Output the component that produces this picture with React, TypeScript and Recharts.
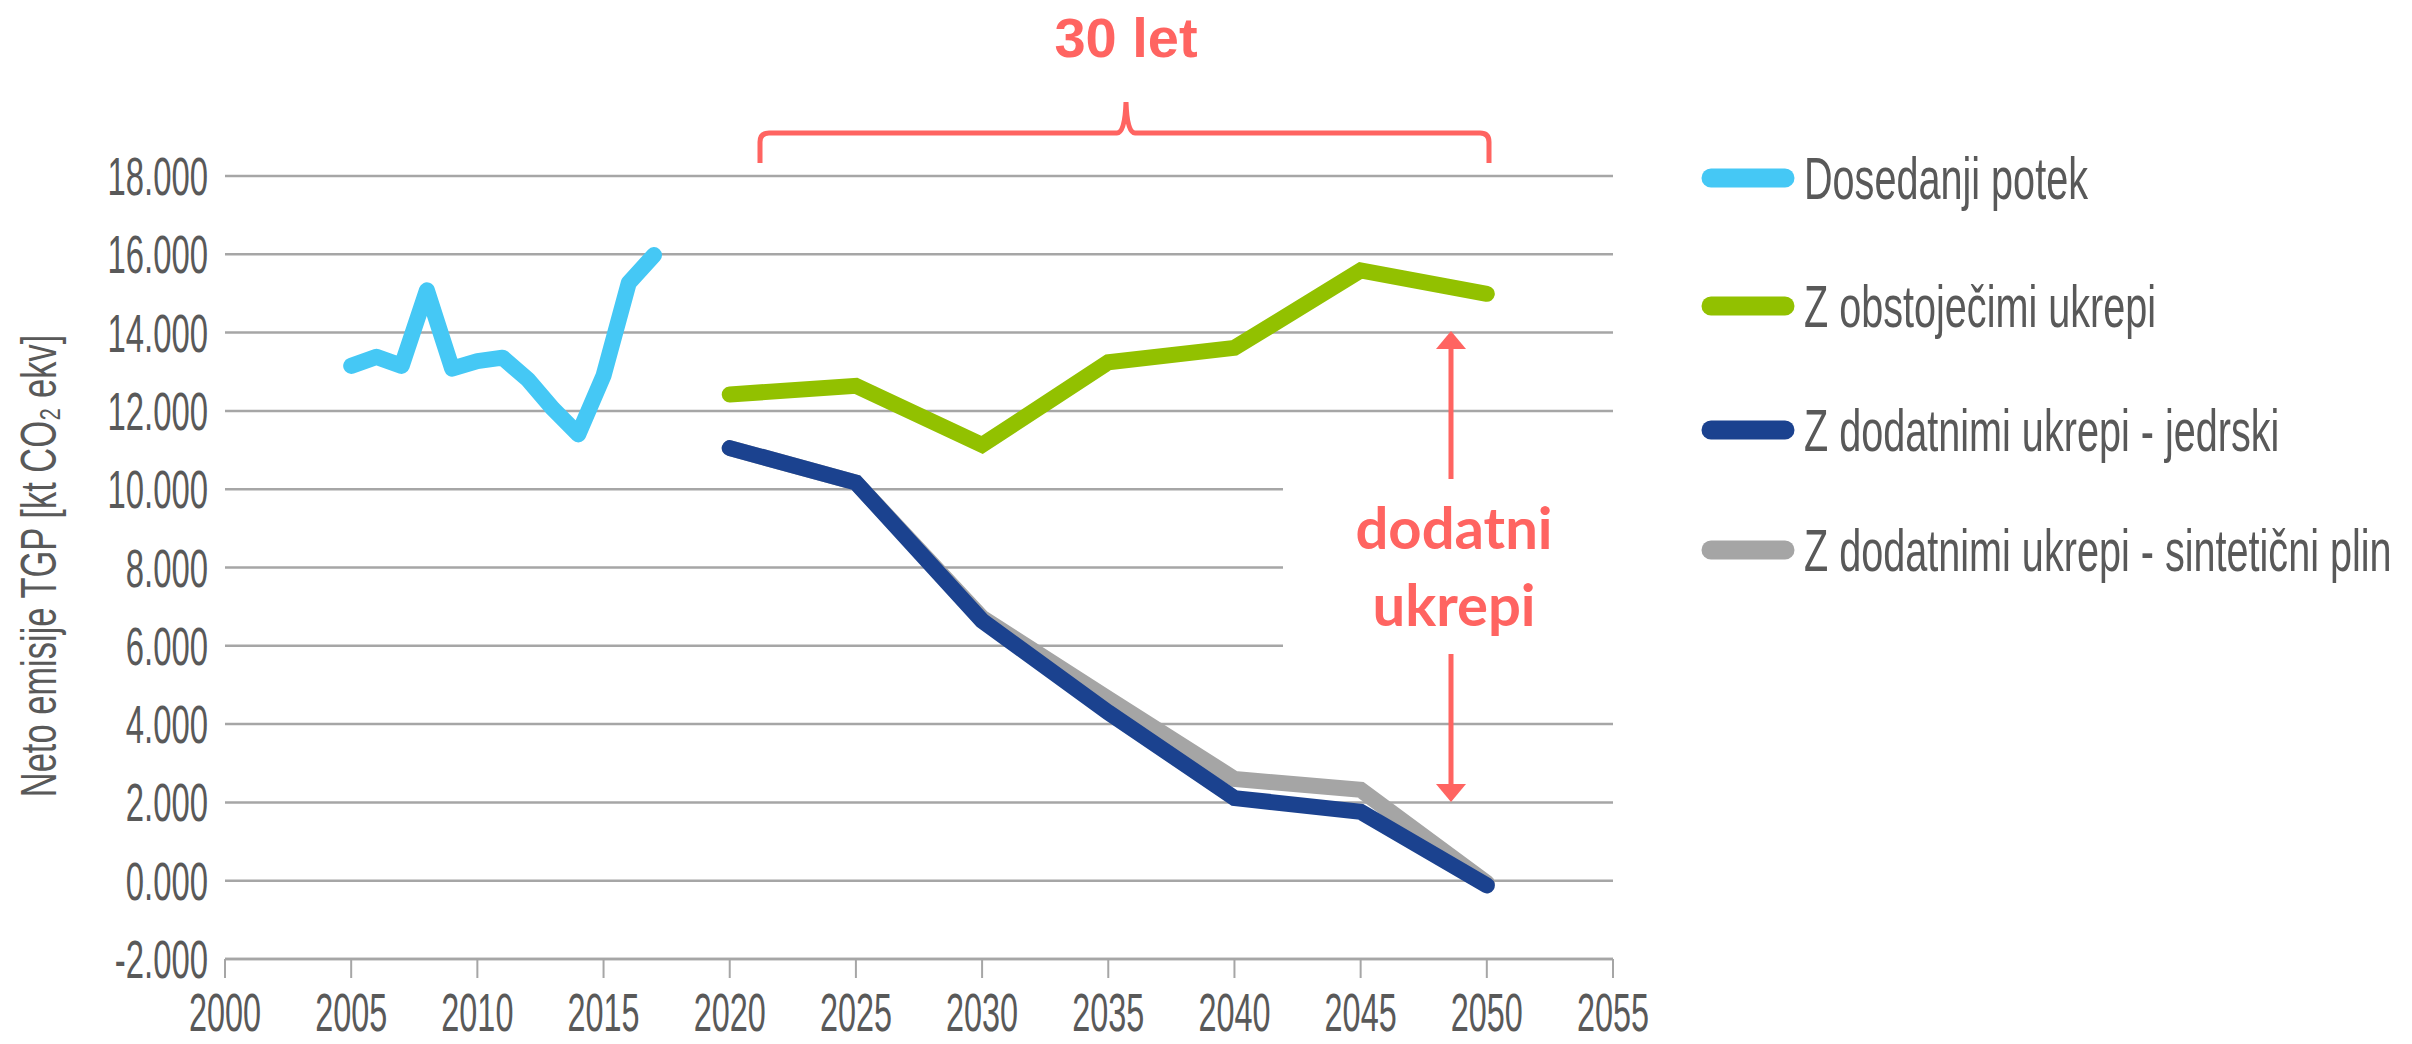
import React from 'react';
import { LineChart, Line, XAxis, YAxis, CartesianGrid, Legend } from 'recharts';

// historical net emissions, kt CO2 eq
const histYears = [2005, 2006, 2007, 2008, 2009, 2010, 2011, 2012, 2013, 2014, 2015, 2016, 2017];
const histValues = [13150, 13380, 13150, 15080, 13080, 13270, 13360, 12800, 12050, 11400, 12900, 15270, 15980];

// scenarios
const scenarioYears = [2020, 2025, 2030, 2035, 2040, 2045, 2050];
const existingMeasures = [12420, 12640, 11130, 13240, 13610, 15590, 14990];
const additionalNuclear = [11050, 10170, 6640, 4300, 2110, 1760, -120];
const additionalSynGas = [11050, 10170, 6720, 4650, 2600, 2320, -60];

const xTicks = [2000, 2005, 2010, 2015, 2020, 2025, 2030, 2035, 2040, 2045, 2050, 2055];
const yTicks = [-2000, 0, 2000, 4000, 6000, 8000, 10000, 12000, 14000, 16000, 18000];
const yTickLabels = ['-2.000', '0.000', '2.000', '4.000', '6.000', '8.000', '10.000', '12.000', '14.000', '16.000', '18.000'];

const seriesNames = [
  'Dosedanji potek',
  'Z obstoječimi ukrepi',
  'Z dodatnimi ukrepi - jedrski',
  'Z dodatnimi ukrepi - sintetični plin',
];
const seriesColors = ['#45C8F5', '#92C100', '#1B428F', '#A5A5A5'];

const yTitle = 'Neto emisije TGP [kt CO₂ ekv]';
const spanLabel = '30 let';
const gapLabel = ['dodatni', 'ukrepi'];

const toPoints = (years: number[], values: number[]) => years.map((year, i) => ({ year, value: values[i] }));

const histData = toPoints(histYears, histValues);
const wemData = toPoints(scenarioYears, existingMeasures);
const nuclearData = toPoints(scenarioYears, additionalNuclear);
const synGasData = toPoints(scenarioYears, additionalSynGas);

const W = 2412;
const H = 1044;
const GREY_TEXT = '#595959';
const GRID = '#A6A6A6';
const RED = '#FF6461';
const NARROW = '"Liberation Sans", Arial, sans-serif';
const LINE_W = 16;

// squeezed text, the original uses a very condensed face
const Narrow = ({ x, y, sx, size, anchor = 'start', rotate = false, fill = GREY_TEXT, children }: any) => (
  <text
    transform={`translate(${x},${y})${rotate ? ' rotate(-90)' : ''} scale(${sx},1)`}
    fontSize={size}
    fontFamily={NARROW}
    textAnchor={anchor}
    fill={fill}
  >
    {children}
  </text>
);

const YTick = (props: any) => {
  const { x, y, payload } = props;
  const idx = yTicks.indexOf(payload.value);
  return (
    <Narrow x={x} y={y + 19} sx={0.62} size={53} anchor="end">
      {yTickLabels[idx]}
    </Narrow>
  );
};

const XTick = (props: any) => {
  const { x, y, payload } = props;
  return (
    <Narrow x={x} y={y + 53} sx={0.6} size={54} anchor="middle">
      {String(payload.value)}
    </Narrow>
  );
};

const legendRows = [38, 166, 290, 410];

const LegendBox = () => (
  <svg width={722} height={460}>
    {seriesNames.map((name, i) => {
      const cy = legendRows[i];
      return (
        <g key={name}>
          <line x1={21} y1={cy} x2={95} y2={cy} stroke={seriesColors[i]} strokeWidth={19} strokeLinecap="round" />
          <Narrow x={114} y={cy + 21} sx={0.66} size={60}>
            {name}
          </Narrow>
        </g>
      );
    })}
  </svg>
);

const Annotations = () => (
  <svg width={W} height={H} style={{ position: 'absolute', left: 0, top: 0, pointerEvents: 'none' }}>
    {/* y axis title */}
    <Narrow x={56} y={566} sx={0.69} size={50} anchor="middle" rotate>
      {yTitle}
    </Narrow>

    {/* 30 year bracket */}
    <text x={1126} y={57} fontSize={56} fontWeight={700} fontFamily={NARROW} fill={RED} textAnchor="middle">
      {spanLabel}
    </text>
    <path
      d="M760,163 L760,142 Q760,133 769,133 L1117,133 Q1125,133 1126,102 Q1127,133 1135,133 L1480,133 Q1489,133 1489,142 L1489,163"
      fill="none"
      stroke={RED}
      strokeWidth={5}
    />

    {/* box that hides the grid behind the label */}
    <rect x={1283} y={470} width={340} height={228} fill="#fff" />

    {/* double arrow */}
    <line x1={1451} y1={347} x2={1451} y2={479} stroke={RED} strokeWidth={5} />
    <polygon points="1451,331 1436,349 1466,349" fill={RED} />
    <line x1={1451} y1={654} x2={1451} y2={786} stroke={RED} strokeWidth={5} />
    <polygon points="1451,802 1436,784 1466,784" fill={RED} />
    <text x={1454} y={549} fontSize={58} fontWeight={700} fontFamily="Lato, sans-serif" fill={RED} textAnchor="middle">
      {gapLabel[0]}
    </text>
    <text x={1454} y={626} fontSize={58} fontWeight={700} fontFamily="Lato, sans-serif" fill={RED} textAnchor="middle">
      {gapLabel[1]}
    </text>
  </svg>
);

const App: React.FC = () => {
  return (
    <div style={{ position: 'relative', width: W, height: H, background: '#fff' }}>
      <style>{'body{margin:0;background:#fff}'}</style>
      <LineChart width={W} height={H} margin={{ top: 176, right: 799, bottom: 0, left: 0 }}>
        <CartesianGrid vertical={false} stroke={GRID} strokeWidth={2.5} />
        <XAxis
          dataKey="year"
          type="number"
          domain={[2000, 2055]}
          ticks={xTicks}
          interval={0}
          height={85}
          allowDuplicatedCategory={false}
          axisLine={{ stroke: GRID, strokeWidth: 2.5 }}
          tickLine={{ stroke: GRID, strokeWidth: 2 }}
          tickSize={19}
          tickMargin={0}
          tick={<XTick />}
        />
        <YAxis
          type="number"
          domain={[-2000, 18000]}
          ticks={yTicks}
          interval={0}
          width={225}
          axisLine={false}
          tickLine={false}
          tickSize={0}
          tickMargin={17}
          tick={<YTick />}
        />
        <Legend layout="vertical" align="center" verticalAlign="middle" content={<LegendBox />}
          wrapperStyle={{ position: 'absolute', left: 1690, top: 140, width: 722, height: 460 }} />
        <Line data={histData} dataKey="value" name={seriesNames[0]} stroke={seriesColors[0]} strokeWidth={LINE_W}
          strokeLinecap="round" strokeLinejoin="round" dot={false} isAnimationActive={false} />
        <Line data={wemData} dataKey="value" name={seriesNames[1]} stroke={seriesColors[1]} strokeWidth={LINE_W}
          strokeLinecap="round" strokeLinejoin="miter" dot={false} isAnimationActive={false} />
        <Line data={synGasData} dataKey="value" name={seriesNames[3]} stroke={seriesColors[3]} strokeWidth={LINE_W}
          strokeLinecap="round" strokeLinejoin="miter" dot={false} isAnimationActive={false} />
        <Line data={nuclearData} dataKey="value" name={seriesNames[2]} stroke={seriesColors[2]} strokeWidth={LINE_W}
          strokeLinecap="round" strokeLinejoin="miter" dot={false} isAnimationActive={false} />
      </LineChart>
      <Annotations />
    </div>
  );
};

export default App;
